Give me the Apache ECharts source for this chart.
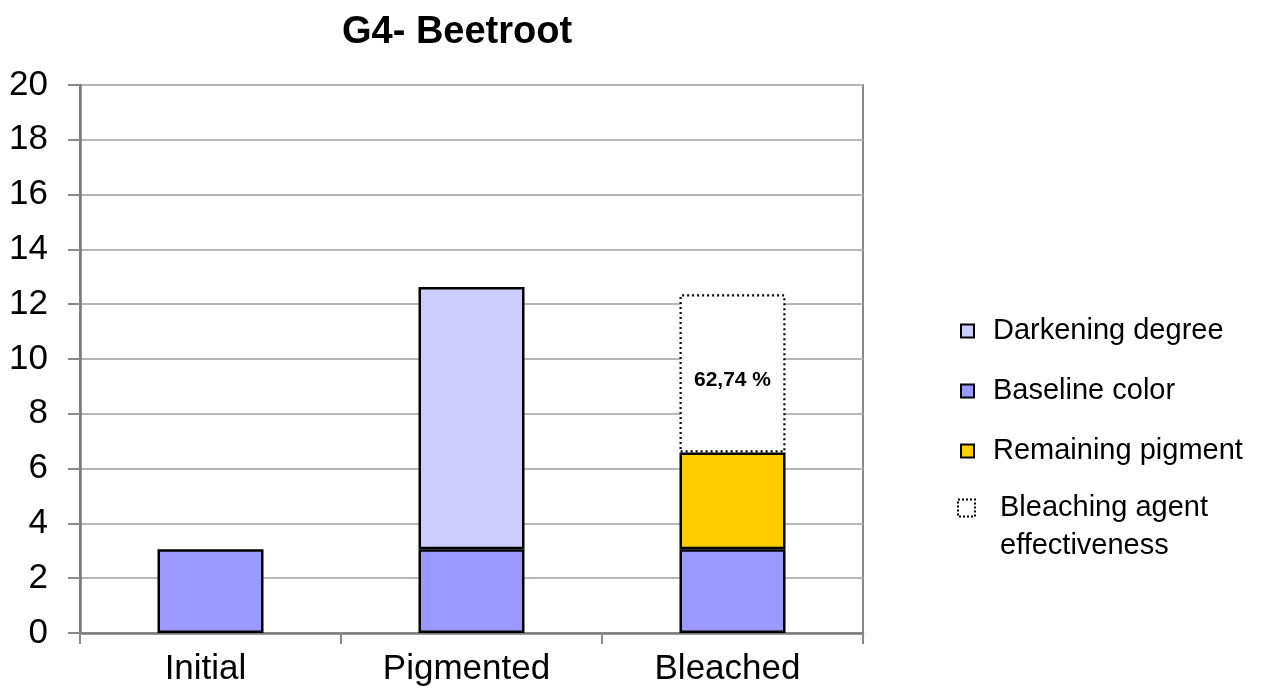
<!DOCTYPE html>
<html>
<head>
<meta charset="utf-8">
<script src="https://cdn.jsdelivr.net/npm/echarts@6/dist/echarts.min.js"></script>
<style>
  html, body { margin: 0; padding: 0; background: #fff; }
  #chart { width: 1278px; height: 693px; }
</style>
</head>
<body>
<div id="chart"></div>
<script>
// data
var categories = ['Initial', 'Pigmented', 'Bleached'];
var baseline = [3.06, 3.06, 3.06];
var darkening = ['-', 9.57, '-'];
var remaining = ['-', '-', 3.53];
var effectiveness = ['-', '-', 5.77];
var effectivenessLabel = '62,74 %';
var yTicks = { min: 0, max: 20, interval: 2 };

var font = 'Liberation Sans, Arial, sans-serif';
var chart = echarts.init(document.getElementById('chart'));

var edge = { borderColor: '#000', borderWidth: 2.5 };

var option = {
	animation: false,
	title: {
		text: 'G4- Beetroot',
		left: 337,
		top: 9,
		textStyle: { fontFamily: font, fontSize: 38, fontWeight: 'bold', color: '#000' }
	},
	grid: {
		left: 80,
		right: 415,
		top: 85,
		bottom: 60,
		show: true,
		borderColor: '#8a8a8a',
		borderWidth: 2
	},
	legend: [{
		orient: 'vertical',
		left: 955,
		top: 310,
		icon: 'rect',
		itemWidth: 13,
		itemHeight: 13,
		itemGap: 28,
		textStyle: { fontFamily: font, fontSize: 29, color: '#000', lineHeight: 32, padding: [0, 0, 0, 14] },
		data: ['Darkening degree', 'Baseline color', 'Remaining pigment']
	}, {
		// blank first line keeps the icon level with "Bleaching agent"
		orient: 'vertical',
		left: 952,
		top: 446,
		icon: 'rect',
		itemWidth: 17,
		itemHeight: 17,
		formatter: function () { return ' \nBleaching agent\neffectiveness'; },
		textStyle: { fontFamily: font, fontSize: 29, color: '#000', lineHeight: 38, padding: [0, 0, 0, 20] },
		data: [{
			name: 'Bleaching agent effectiveness',
			itemStyle: { color: '#fff', borderColor: '#000', borderWidth: 2, borderType: [2, 2] }
		}]
	}],
	xAxis: {
		type: 'category',
		data: categories,
		axisLine: { lineStyle: { color: '#7a7a7a', width: 2.5 } },
		axisTick: { show: true, length: 11, lineStyle: { color: '#8a8a8a', width: 2 } },
		axisLabel: { fontFamily: font, fontSize: 35, color: '#000', margin: 19, padding: [0, 10, 0, 0] }
	},
	yAxis: {
		type: 'value',
		min: yTicks.min,
		max: yTicks.max,
		interval: yTicks.interval,
		axisLine: { show: true, lineStyle: { color: '#7a7a7a', width: 2.5 } },
		axisTick: { show: true, length: 12, lineStyle: { color: '#8a8a8a', width: 2 } },
		axisLabel: { fontFamily: font, fontSize: 35, color: '#000', margin: 32 },
		splitLine: { lineStyle: { color: '#b8b8b8', width: 2 } }
	},
	series: [{
		name: 'Baseline color',
		type: 'bar',
		stack: 'g4',
		barWidth: 106,
		itemStyle: Object.assign({ color: '#9999ff' }, edge),
		data: baseline
	}, {
		name: 'Darkening degree',
		type: 'bar',
		stack: 'g4',
		itemStyle: Object.assign({ color: '#ccccff' }, edge),
		data: darkening
	}, {
		name: 'Remaining pigment',
		type: 'bar',
		stack: 'g4',
		itemStyle: Object.assign({ color: '#ffcc00' }, edge),
		data: remaining
	}, {
		name: 'Bleaching agent effectiveness',
		type: 'bar',
		stack: 'g4',
		itemStyle: { color: '#ffffff', borderColor: '#000', borderWidth: 2.2, borderType: [2, 3] },
		label: {
			show: true,
			position: 'inside',
			offset: [0, 7],
			formatter: function () { return effectivenessLabel; },
			fontFamily: font,
			fontSize: 21,
			fontWeight: 'bold',
			color: '#000'
		},
		data: effectiveness
	}]
};

chart.setOption(option);
</script>
</body>
</html>
